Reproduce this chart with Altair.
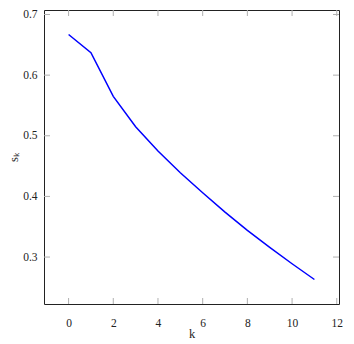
import altair as alt
import pandas as pd

k_vals = [0, 1, 2, 3, 4, 5, 6, 7, 8, 9, 10, 11]
s_vals = [0.667, 0.637, 0.565, 0.515, 0.475, 0.439, 0.406, 0.374, 0.344, 0.316, 0.289, 0.263]
x_ticks = [0, 2, 4, 6, 8, 10, 12]
y_ticks = [0.3, 0.4, 0.5, 0.6, 0.7]

W, H = 295, 294
TL = 6
FONT = "Liberation Serif"
TICK_COLOR = "#b0b0b0"
TXT = "#222222"

df = pd.DataFrame({"k": k_vals, "s": s_vals})
xt = pd.DataFrame({"k": x_ticks})
yt = pd.DataFrame({"s": y_ticks})

xscale = alt.Scale(domain=[-1.1, 12.1], nice=False, zero=False)
yscale = alt.Scale(domain=[0.2226, 0.7074], nice=False, zero=False)

xaxis = alt.Axis(
    title="k", values=x_ticks, format="d", grid=False, ticks=False, tickSize=0,
    domain=False, labelPadding=13, titleY=33, titleBaseline="alphabetic", labelFlush=False)
yaxis = alt.Axis(
    title="sₖ", values=y_ticks, format=".1f", grid=False, ticks=False, tickSize=0,
    domain=False, labelPadding=7, titleX=-27, titleY=H / 2, titleAngle=-90,
    titleBaseline="alphabetic", labelFlush=False)

X = alt.X("k:Q", scale=xscale, axis=xaxis, title="k")
Y = alt.Y("s:Q", scale=yscale, axis=yaxis, title="sₖ")

line = alt.Chart(df).mark_line(color="#0000ff", strokeWidth=1.5).encode(x=X, y=Y)

bottom = alt.Chart(xt).mark_rule(color=TICK_COLOR, strokeWidth=1).encode(
    x=X, y=alt.value(H), y2=alt.value(H - TL))
top = alt.Chart(xt).mark_rule(color=TICK_COLOR, strokeWidth=1).encode(
    x=X, y=alt.value(0), y2=alt.value(TL))
left = alt.Chart(yt).mark_rule(color=TICK_COLOR, strokeWidth=1).encode(
    y=Y, x=alt.value(0), x2=alt.value(TL))
right = alt.Chart(yt).mark_rule(color=TICK_COLOR, strokeWidth=1).encode(
    y=Y, x=alt.value(W), x2=alt.value(W - TL))

chart = alt.layer(line, bottom, top, left, right).properties(
    width=W, height=H, autosize="none",
    padding={"left": 36, "top": 2, "right": 7, "bottom": 40},
).configure_view(stroke="#222222", strokeWidth=1).configure_axis(
    labelFont=FONT, labelFontSize=11.5, labelColor=TXT,
    titleFont=FONT, titleFontSize=12.5, titleFontWeight="normal", titleColor=TXT,
)

chart.save("out.html", embed_options={"renderer": "svg", "actions": False})
